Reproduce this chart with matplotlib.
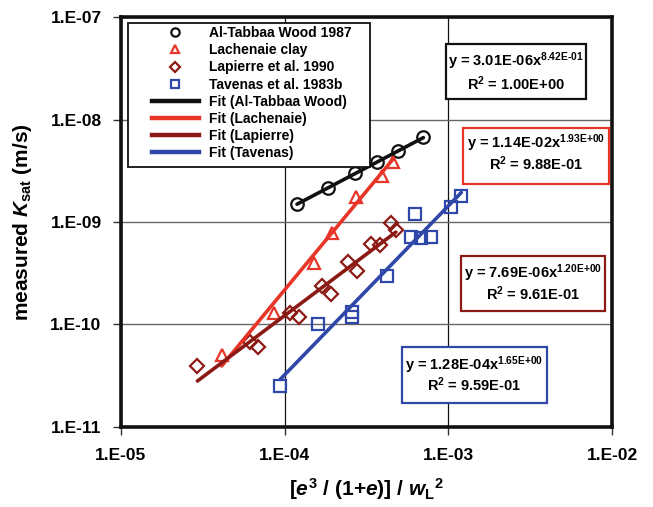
import matplotlib
matplotlib.use('Agg')
import matplotlib.pyplot as plt
import numpy as np
from matplotlib.lines import Line2D
from matplotlib.patches import Rectangle
from matplotlib.ticker import FixedLocator, FuncFormatter, NullLocator

plt.rcParams['font.family'] = ['Liberation Sans', 'DejaVu Sans']
plt.rcParams['font.weight'] = 'bold'
plt.rcParams['mathtext.fontset'] = 'custom'
plt.rcParams['mathtext.rm'] = 'Liberation Sans:bold'
plt.rcParams['mathtext.it'] = 'Liberation Sans:italic:bold'
plt.rcParams['mathtext.bf'] = 'Liberation Sans:bold'
plt.rcParams['mathtext.default'] = 'regular'

# ---------------- data ----------------
tabbaa_x = [1.19e-4, 1.83e-4, 2.69e-4, 3.69e-4, 4.91e-4, 7.04e-4]
tabbaa_y = [1.50e-9, 2.16e-9, 2.99e-9, 3.88e-9, 4.93e-9, 6.71e-9]

lach_x = [4.12e-5, 8.65e-5, 1.51e-4, 1.94e-4, 2.72e-4, 3.92e-4, 4.58e-4]
lach_y = [5.0e-11, 1.28e-10, 3.94e-10, 7.74e-10, 1.74e-9, 2.81e-9, 3.88e-9]

lap_x = [2.93e-5, 6.14e-5, 6.90e-5, 1.08e-4, 1.23e-4, 1.69e-4, 1.91e-4,
         2.45e-4, 2.78e-4, 3.36e-4, 3.83e-4, 4.45e-4, 4.78e-4]
lap_y = [3.93e-11, 6.75e-11, 6.03e-11, 1.29e-10, 1.18e-10, 2.38e-10, 1.97e-10,
         4.03e-10, 3.33e-10, 6.08e-10, 5.94e-10, 9.82e-10, 8.33e-10]

tav_x = [9.38e-5, 1.59e-4, 2.57e-4, 2.59e-4, 4.21e-4, 5.90e-4, 6.27e-4,
         6.79e-4, 7.82e-4, 1.04e-3, 1.20e-3]
tav_y = [2.49e-11, 9.98e-11, 1.31e-10, 1.18e-10, 2.96e-10, 7.16e-10, 1.19e-9,
         6.92e-10, 7.16e-10, 1.41e-9, 1.79e-9]

# fit: (coefficient, exponent, R^2)
tabbaa_fit = (3.01e-6, 0.842, 1.00)
lach_fit = (1.14e-2, 1.93, 0.988)
lap_fit = (7.69e-6, 1.20, 0.961)
tav_fit = (1.28e-4, 1.65, 0.959)

series_labels = ['Al-Tabbaa Wood 1987', 'Lachenaie clay', 'Lapierre et al. 1990',
                 'Tavenas et al. 1983b']
fit_labels = ['Fit (Al-Tabbaa Wood)', 'Fit (Lachenaie)', 'Fit (Lapierre)', 'Fit (Tavenas)']

x_ticks = [1e-5, 1e-4, 1e-3, 1e-2]
y_ticks = [1e-11, 1e-10, 1e-9, 1e-8, 1e-7]

# ---------------- styles ----------------
BLACK = '#111111'
RED = '#e8352a'
DRED = '#8c1a14'
BLUE = '#2f47a8'

W, H = 653, 507
fig = plt.figure(figsize=(W / 100, H / 100), dpi=100)
L, R, T, B = 121, 612, 17.3, 426.7
ax = fig.add_axes([L / W, 1 - B / H, (R - L) / W, (B - T) / H])


def fx(px):
    return (px - L) / (R - L)


def fy(py):
    return (B - py) / (B - T)


ax.set_xscale('log')
ax.set_yscale('log')
ax.set_xlim(1e-5, 1e-2)
ax.set_ylim(1e-11, 1e-7)

fmt = FuncFormatter(lambda v, p: '1.E%+03d' % int(round(np.log10(v))))
ax.xaxis.set_major_locator(FixedLocator(x_ticks))
ax.yaxis.set_major_locator(FixedLocator(y_ticks))
ax.xaxis.set_minor_locator(NullLocator())
ax.yaxis.set_minor_locator(NullLocator())
ax.xaxis.set_major_formatter(fmt)
ax.yaxis.set_major_formatter(fmt)
ax.tick_params(axis='both', direction='out', length=6, width=1, labelsize=12.5,
               color='#333333')
ax.tick_params(axis='x', pad=9)
ax.tick_params(axis='y', pad=8)
for lab in ax.get_xticklabels() + ax.get_yticklabels():
    lab.set_fontweight('bold')

ax.grid(axis='x', color='#111111', lw=0.9, zorder=0)
ax.grid(axis='y', color='#666666', lw=1.0, zorder=0)
ax.set_axisbelow(True)
for s in ax.spines.values():
    s.set_linewidth(2.6)
    s.set_color('#111111')

datasets = [
    (tabbaa_x, tabbaa_y, tabbaa_fit, BLACK, 'o', 9.0),
    (lach_x, lach_y, lach_fit, RED, '^', 9.0),
    (lap_x, lap_y, lap_fit, DRED, 'D', 7.0),
    (tav_x, tav_y, tav_fit, BLUE, 's', 9.0),
]

for xs, ys, (a, b, r2), col, mk, ms in datasets:
    ax.plot(xs, ys, ls='none', marker=mk, ms=ms, mfc='none', mec=col, mew=1.6, zorder=3)
    xf = np.geomspace(min(xs), max(xs), 60)
    ax.plot(xf, a * xf ** b, color=col, lw=2.6, zorder=4, solid_capstyle='round')

# legend
handles = []
for xs, ys, fit, col, mk, ms in datasets:
    handles.append(Line2D([], [], ls='none', marker=mk, ms=6 if mk != 'D' else 5,
                          mfc='none', mec=col, mew=1.6))
for xs, ys, fit, col, mk, ms in datasets:
    handles.append(Line2D([], [], color=col, lw=3.2))
ax.add_patch(Rectangle((fx(128), fy(166.7)), fx(370) - fx(128), fy(22.7) - fy(166.7),
                       transform=ax.transAxes, facecolor='white', edgecolor='#111111',
                       lw=1.3, zorder=6))
leg = ax.legend(handles, series_labels + fit_labels, loc='upper left',
                bbox_to_anchor=(fx(151.7), fy(26.0)), borderaxespad=0, borderpad=0,
                frameon=False, prop={'family': 'Liberation Sans', 'weight': 'bold', 'size': 10},
                handlelength=3.4, handletextpad=0.75, labelspacing=0.23, numpoints=1)
leg.set_zorder(7)

# equation boxes
boxes = [
    (tabbaa_fit, BLACK, (445.7, 44, 585.7, 99.3), (61.7, 83.3)),
    (lach_fit, RED, (462.7, 128.3, 609, 184.3), (143.3, 163.3)),
    (lap_fit, DRED, (460.7, 256, 605, 311), (273.3, 293.3)),
    (tav_fit, BLUE, (402.3, 347.3, 546.7, 403.3), (365, 385)),
]


def efmt(v):
    return ('%.2E' % v).replace('-', '\u2010').replace('+', '{+}')


for (a, b, r2), col, (x0, y0, x1, y1), (l1, l2) in boxes:
    ax.add_patch(Rectangle((fx(x0), fy(y1)), fx(x1) - fx(x0), fy(y0) - fy(y1),
                           transform=ax.transAxes, facecolor='white', edgecolor=col,
                           lw=1.6, zorder=6))
    cx = fx((x0 + x1) / 2)
    ax.text(cx, fy(l1), 'y = %sx$^{%s}$' % ('%.2E' % a, efmt(b)), transform=ax.transAxes,
            ha='center', va='center', fontsize=10.5, fontweight='bold', zorder=7)
    ax.text(cx, fy(l2), 'R$^{2}$ = %s' % ('%.2E' % r2), transform=ax.transAxes,
            ha='center', va='center', fontsize=10.5, fontweight='bold', zorder=7)

ax.set_ylabel('measured $\\mathit{K}_{sat}$ (m/s)', fontsize=15, fontweight='bold', labelpad=12)
ax.set_xlabel('[$\\mathit{e}^{3}$ / (1+$\\mathit{e}$)] / $\\mathit{w}_{L}{}^{2}$', fontsize=15,
              fontweight='bold', labelpad=10)

fig.savefig('out.png', dpi=100)
